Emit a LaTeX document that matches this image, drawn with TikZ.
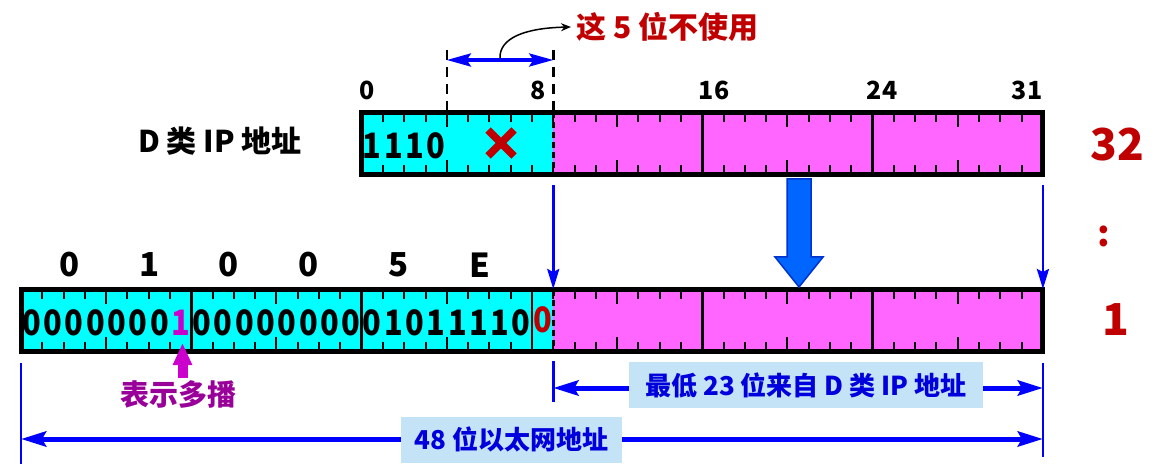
\documentclass[tikz,border=0pt]{standalone}
\usepackage{fontspec}
\setmainfont{Noto Sans CJK SC}
\usetikzlibrary{arrows.meta}
\definecolor{cy}{HTML}{00FFFF}
\definecolor{pk}{HTML}{FF66FF}
\definecolor{dred}{HTML}{C00000}
\definecolor{boxblue}{HTML}{C5E3F7}
\definecolor{txtblue}{HTML}{0000DD}
\definecolor{purp}{HTML}{990099}
\definecolor{mag}{HTML}{CC00CC}
\definecolor{bigblue}{HTML}{0066FF}
\definecolor{bigedge}{HTML}{0033CC}
\newcommand\bw{21.29}
\newcommand\narrowdig[1]{\scalebox{0.88}[1]{#1}}
\tikzset{
  fs/.style={font=\bfseries\fontsize{#1}{#1}\selectfont},
  bittick/.style={line width=2pt},
  majorline/.style={line width=2.5pt},
  bardash/.style={line width=2.5pt, dash pattern=on 6pt off 4pt},
  topdash/.style={line width=2.5pt, dash pattern=on 10pt off 7pt},
  bluevert/.style={draw=blue, line width=2.5pt},
  digit/.style={fs=35, inner sep=0pt},
  numlab/.style={fs=25, inner sep=0pt},
  hexlab/.style={fs=33, inner sep=0pt},
  infobox/.style={fill=boxblue, text=txtblue, fs=26, inner sep=0pt, minimum height=46pt},
  dimarrow/.style={draw=blue, line width=5pt, {Stealth[length=25pt,width=15pt,inset=4pt]}-{Stealth[length=25pt,width=15pt,inset=4pt]}},
  downarrow/.style={draw=blue, line width=2.5pt, -{Stealth[length=20pt,width=12pt,inset=3pt]}},
}
\begin{document}
\begin{tikzpicture}[x=1pt,y=-1pt]
\useasboundingbox (0,0) rectangle (1164,470);
% ---------- top bar (D class IP) ----------
\node[anchor=north west, minimum width=681.28pt, minimum height=62pt, inner sep=0pt, outer sep=0pt] (topbar) at (361.64,112.5) {};
\fill[cy] (361.64,112.5) rectangle (553.25,174.5);
\fill[pk] (553.25,112.5) rectangle (1042.92,174.5);
\foreach \k in {1,...,31} {
  \draw[bittick] ({361.64+\k*\bw},112.5) -- ++(0,9.5) ({361.64+\k*\bw},174.5) -- ++(0,-9.5);
}
\foreach \k in {4,12,20,28} {
  \draw[bittick] ({361.64+\k*\bw},112.5) -- ++(0,14.5) ({361.64+\k*\bw},174.5) -- ++(0,-14.5);
}
\foreach \k in {16,24} {
  \draw[majorline] ({361.64+\k*\bw},112.5) -- ({361.64+\k*\bw},174.5);
}
\draw[bardash] (553.25,112.5) -- (553.25,174.5);
\draw[line width=5pt] (topbar.north west) rectangle (topbar.south east);
% ---------- bottom bar (Ethernet) ----------
\node[anchor=north west, minimum width=1021.92pt, minimum height=62pt, inner sep=0pt, outer sep=0pt] (botbar) at (21,289.5) {};
\fill[cy] (21,289.5) rectangle (553.25,351.5);
\fill[pk] (553.25,289.5) rectangle (1042.92,351.5);
\foreach \k in {1,...,47} {
  \draw[bittick] ({21+\k*\bw},289.5) -- ++(0,9.5) ({21+\k*\bw},351.5) -- ++(0,-9.5);
}
\foreach \k in {4,12,20,28,36,44} {
  \draw[bittick] ({21+\k*\bw},289.5) -- ++(0,14.5) ({21+\k*\bw},351.5) -- ++(0,-14.5);
}
\foreach \k in {8,16,24,32,40} {
  \draw[majorline] ({21+\k*\bw},289.5) -- ({21+\k*\bw},351.5);
}
\draw[bardash] (553.25,289.5) -- (553.25,351.5);
\draw[line width=5pt] (botbar.north west) rectangle (botbar.south east);
% ---------- texts in top bar ----------
\foreach \d [count=\i from 0] in {1,1,1,0} {
  \node[digit] (tb\i) at ({361.64+(\i+0.5)*\bw},146) {\narrowdig{\d}};
}
\draw[dred, line width=7.5pt] (488,130) -- (514,156) (488,156) -- (514,130);
% bit numbers
\node[numlab] (n0) at (367.5,90) {0};
\node[numlab] (n8) at (538,90) {8};
\node[numlab] (n16) at (714,90) {16};
\node[numlab] (n24) at (882,90) {24};
\node[numlab] (n31) at (1027,90) {31};
\node[fs=30, inner sep=0pt] (dclass) at (220,141) {D 类 IP 地址};
% unused 5 bits
\coordinate (d4t) at (446.8,50);
\coordinate (d4b) at (446.8,112.5);
\coordinate (d9t) at (553.25,50);
\coordinate (d9b) at (553.25,112.5);
\draw[topdash] (d4t) -- (d4b);
\draw[topdash] (d9t) -- (d9b);
\coordinate (u1) at (446.8,60);
\coordinate (u2) at (553.25,60);
\draw[draw=blue, line width=3.5pt, {Stealth[length=24pt,width=13pt,inset=4pt]}-{Stealth[length=24pt,width=13pt,inset=4pt]}] (u1) -- (u2);
\node[fs=30, text=dred, anchor=west, inner sep=0pt] (note) at (576,27) {这 5 位不使用};
\coordinate (cstart) at (500,58.5);
\draw[line width=1.5pt, -{Stealth[length=10pt,width=8pt]}] (cstart) .. controls (499,38) and (525,28) .. ([xshift=-5pt]note.west);
% right side numbers
\node[fs=44, text=dred, inner sep=0pt] (n32) at (1117,145) {32};
\node[fs=36, text=dred, inner sep=0pt] (ncolon) at (1104,236) {:};
\node[fs=44, text=dred, inner sep=0pt] (n1) at (1116,320) {1};
% ---------- mapping arrows ----------
\coordinate (la) at (553.25,185);
\coordinate (lb) at (553.25,289);
\coordinate (ra) at (1042.92,185);
\coordinate (rb) at (1042.92,289);
\draw[downarrow] (la) -- (lb);
\draw[downarrow] (ra) -- (rb);
\draw[fill=bigblue, draw=bigedge, line width=1.5pt, line join=miter]
  (787,179) -- (811,179) -- (811,257) -- (823,257) -- (799,287) -- (775,257) -- (787,257) -- cycle;
% ---------- bottom texts ----------
\foreach \d/\x [count=\i] in {0/70,1/150,0/229,0/309,5/399,E/480} {
  \node[hexlab] (h\i) at (\x,265) {\d};
}
\foreach \d [count=\i from 0] in {0,0,0,0,0,0,0} {
  \node[digit] (eb\i) at ({21+(\i+0.5)*\bw},323) {\narrowdig{\d}};
}
\node[digit, text=mag] (eb7) at ({21+7.5*\bw},323) {\narrowdig{1}};
\foreach \d [count=\i from 8] in {0,0,0,0,0,0,0,0,0,1,0,1,1,1,1,0} {
  \node[digit] (eb\i) at ({21+(\i+0.5)*\bw},323) {\narrowdig{\d}};
}
\node[digit, text=dred] (eb24) at ({21+24.5*\bw},320) {\narrowdig{0}};
% multicast arrow
\node[fs=29, text=purp, inner sep=0pt] (mc) at (178,394) {表示多播};
\coordinate (mtip) at (182.5,343);
\coordinate (mbot) at (182.5,378);
\draw[mag, line width=10pt, -{Triangle[length=22pt,width=18pt]}] (mbot) -- (mtip);
% dimension lines
\coordinate (v1t) at (21,363);
\coordinate (v1b) at (21,464);
\coordinate (v2t) at (553.25,361);
\coordinate (v2b) at (553.25,402);
\coordinate (v3t) at (1042.92,363);
\coordinate (v3b) at (1042.92,457);
\draw[bluevert] (v1t) -- (v1b);
\draw[bluevert] (v2t) -- (v2b);
\draw[bluevert] (v3t) -- (v3b);
\coordinate (a1l) at (553.25,388);
\coordinate (a1r) at (1042.92,388);
\coordinate (a2l) at (21,439);
\coordinate (a2r) at (1042.92,439);
\draw[dimarrow] (a1l) -- (a1r);
\draw[dimarrow] (a2l) -- (a2r);
\node[infobox, minimum width=354pt] (box1) at (806,385) {最低 23 位来自 D 类 IP 地址};
\node[infobox, minimum width=221pt] (box2) at (511.5,439.5) {48 位以太网地址};
\end{tikzpicture}
\end{document}
